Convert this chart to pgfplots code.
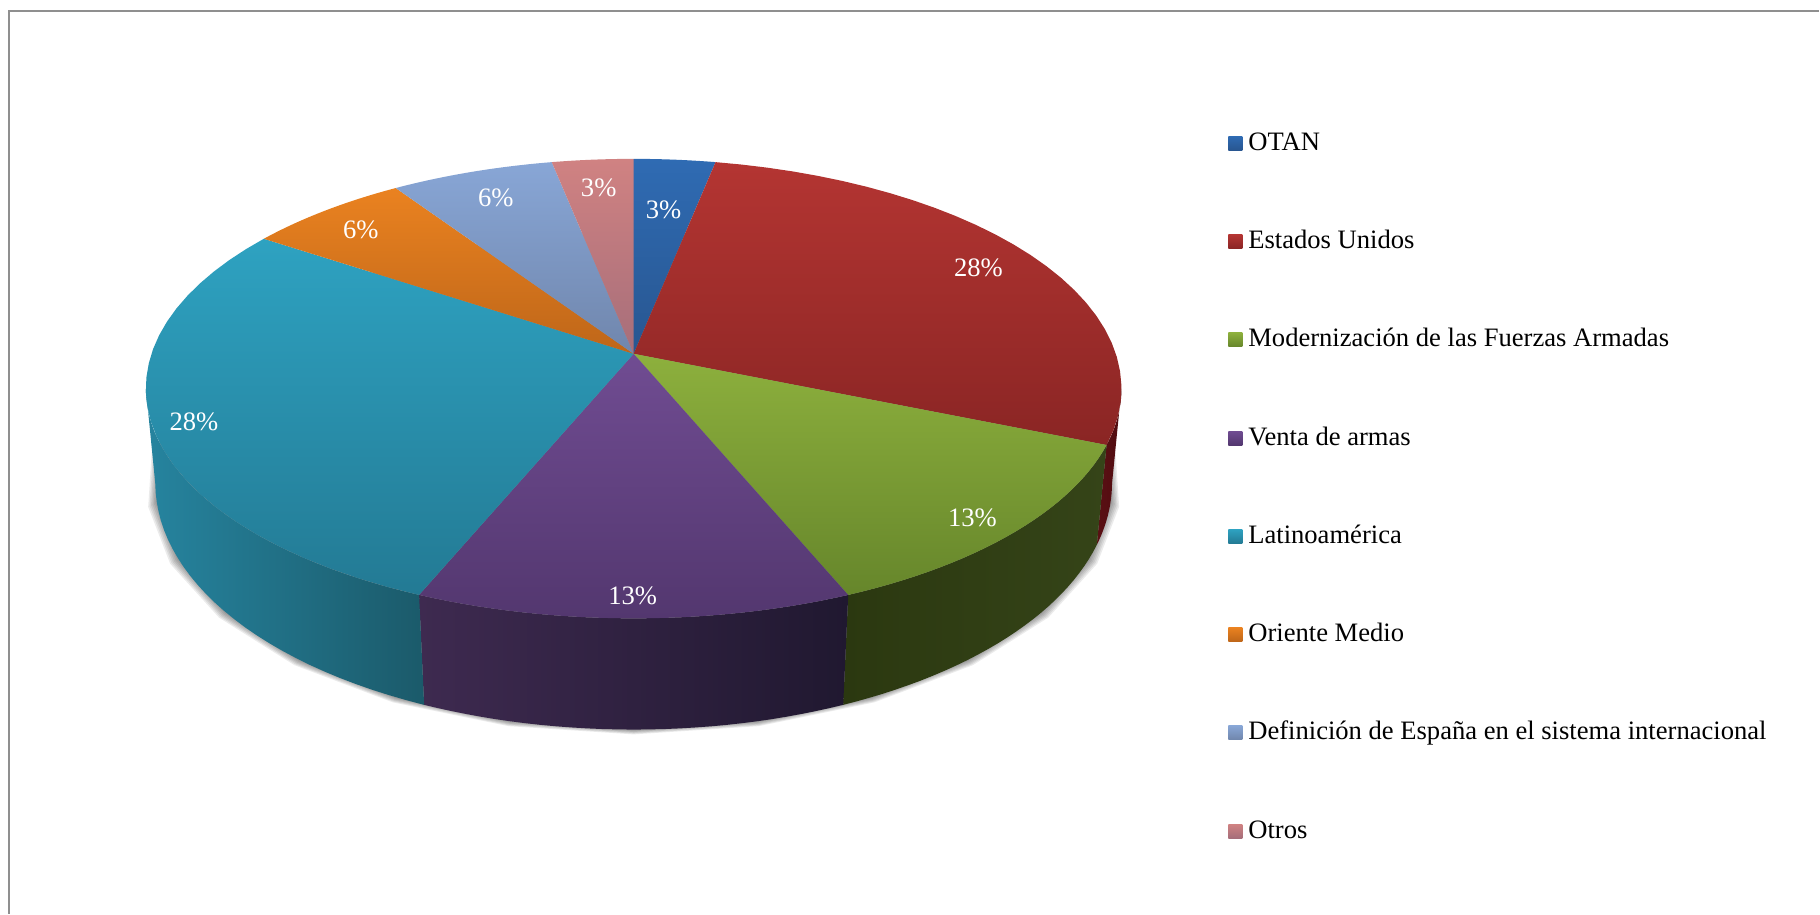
\documentclass[border=0pt]{standalone}
\usepackage{fontspec}
\setmainfont{Liberation Serif}
\usepackage{pgfplots}
\usepackage{pgfplotstable}
\pgfplotsset{compat=1.18}

% Share of each theme, in per cent; the wedges run clockwise from the top.
\pgfplotstableread{
row share
0   3.125
1   28.125
2   12.5
3   12.5
4   28.125
5   6.25
6   6.25
7   3.125
}\shares

% Cumulative angle at the start of each wedge.
\def\cum{0}
\expandafter\def\csname th0\endcsname{0}
\foreach \r in {0,...,7}{%
  \pgfplotstablegetelem{\r}{share}\of\shares
  \pgfmathsetmacro\nxt{\cum+\pgfplotsretval*3.6}%
  \pgfmathtruncatemacro\rr{\r+1}%
  \expandafter\xdef\csname th\rr\endcsname{\nxt}%
  \xdef\cum{\nxt}%
}

% Perspective projection of the disc: top rim and lower rim.
\pgfmathdeclarefunction{wdisc}{1}{\pgfmathparse{1+0.1515*cos(#1)}}
\pgfmathdeclarefunction{topX}{1}{\pgfmathparse{482.5*sin(#1)/wdisc(#1)}}
\pgfmathdeclarefunction{topY}{1}{\pgfmathparse{-224.6*cos(#1)/wdisc(#1)}}
\pgfmathdeclarefunction{fdrop}{1}{\pgfmathparse{0.0186-0.00518*cos(#1)}}

% Appends rim points to \pts. #1 from, #2 to, #3 rim (0 top, 1 lower),
% #4 outward growth, #5 extra downward shift.
\newcommand\rimpts[5]{%
  \foreach \n in {0,...,28}{%
    \pgfmathsetmacro\t{#1+(#2-#1)*\n/28}%
    \pgfmathsetmacro\fd{#3*fdrop(\t)}%
    \pgfmathsetmacro\tx{topX(\t)}%
    \pgfmathsetmacro\ty{topY(\t)}%
    \pgfmathsetmacro\px{634+\tx*(1-\fd)*(1+#4)}%
    \pgfmathsetmacro\py{354+\ty+\fd*(4946-\ty)+#5}%
    \xdef\pts{\pts (\px,\py)}%
  }%
}
\newcommand\poly[1]{%
  \edef\temp{\noexpand\addplot[forget plot,draw=none,#1] coordinates {\pts};}%
  \temp
}
% Top face of wedge #1.
\newcommand\topface[3]{%
  \xdef\pts{(634,354)}%
  \rimpts{\csname th#1\endcsname}{\csname th\the\numexpr#1+1\endcsname}{0}{0}{0}%
  \poly{top color=#2,bottom color=#3}%
}
% Visible rim band between angles #1 and #2.
\newcommand\rimband[5]{%
  \xdef\pts{}%
  \rimpts{#1}{#2}{0}{0}{0}%
  \rimpts{#2}{#1}{1}{0}{0}%
  \poly{left color=#3,middle color=#5,right color=#4}%
}
\newcommand\shadowlayer[2]{%
  \xdef\pts{}%
  \rimpts{0}{360}{1}{#1}{#2}%
  \poly{fill=black,fill opacity=0.08}%
}
\newcommand\swatch[2]{%
  \addlegendimage{legend image code/.code={%
    \path[draw=none,top color=#1,bottom color=#2] (0pt,-2.95pt) rectangle (7pt,4.05pt);}}%
}

\definecolor{aT}{HTML}{2F6BB3}\definecolor{aB}{HTML}{285690}
\definecolor{bT}{HTML}{B43532}\definecolor{bB}{HTML}{8A2524}
\definecolor{cT}{HTML}{8DB03D}\definecolor{cB}{HTML}{66862B}
\definecolor{dT}{HTML}{704C92}\definecolor{dB}{HTML}{53376F}
\definecolor{eT}{HTML}{2EA2C1}\definecolor{eB}{HTML}{237A94}
\definecolor{fT}{HTML}{EA8220}\definecolor{fB}{HTML}{BE6619}
\definecolor{gT}{HTML}{88A6D6}\definecolor{gB}{HTML}{7086AC}
\definecolor{hT}{HTML}{D08282}\definecolor{hB}{HTML}{A66E7A}
\definecolor{bL}{HTML}{5A1014}\definecolor{bM}{HTML}{560E12}\definecolor{bR}{HTML}{510C10}
\definecolor{cL}{HTML}{2B3810}\definecolor{cM}{HTML}{303E14}\definecolor{cR}{HTML}{354418}
\definecolor{dL}{HTML}{3E2A50}\definecolor{dM}{HTML}{2E2140}\definecolor{dR}{HTML}{201830}
\definecolor{eL}{HTML}{26849F}\definecolor{eM}{HTML}{1C6274}\definecolor{eR}{HTML}{1B5A6A}

\begin{document}
\begin{tikzpicture}
\begin{axis}[
  scale only axis,width=910pt,height=457pt,
  xmin=0,xmax=1820,ymin=0,ymax=914,y dir=reverse,
  hide axis,clip=false,
  legend cell align=left,
  legend style={at={(axis cs:1229,132.5)},anchor=north west,draw=none,fill=none,
    inner sep=0pt,outer sep=0pt,row sep=37.15pt,
    nodes={inner sep=0pt,outer sep=0pt,text height=9pt,text depth=3pt,font=\fontsize{13.3}{15}\selectfont},
    /tikz/column 1/.style={column sep=3pt}},
]
% Page extent of the chart area
\path (axis cs:0,0) rectangle (axis cs:1820,914);
% Ground shadow
\shadowlayer{0.003}{0.8}
\shadowlayer{0.006}{1.6}
\shadowlayer{0.009}{2.4}
\shadowlayer{0.012}{3.2}
\shadowlayer{0.015}{4.0}
\shadowlayer{0.018}{4.8}
% Rim bands of the wedges that face the viewer
\rimband{98.7}{112.5}{bL}{bR}{bM}
\rimband{112.5}{157.5}{cL}{cR}{cM}
\rimband{157.5}{202.5}{dL}{dR}{dM}
\rimband{202.5}{261.3}{eL}{eR}{eM}
% Top faces
\topface{0}{aT}{aB}
\topface{1}{bT}{bB}
\topface{2}{cT}{cB}
\topface{3}{dT}{dB}
\topface{4}{eT}{eB}
\topface{5}{fT}{fB}
\topface{6}{gT}{gB}
\topface{7}{hT}{hB}
% Legend
\swatch{aT}{aB}\addlegendentry{OTAN}
\swatch{bT}{bB}\addlegendentry{Estados Unidos}
\swatch{cT}{cB}\addlegendentry{Modernización de las Fuerzas Armadas}
\swatch{dT}{dB}\addlegendentry{Venta de armas}
\swatch{eT}{eB}\addlegendentry{Latinoamérica}
\swatch{fT}{fB}\addlegendentry{Oriente Medio}
\swatch{gT}{gB}\addlegendentry{Definición de España en el sistema internacional}
\swatch{hT}{hB}\addlegendentry{Otros}
% Chart frame
\draw[color=black!44,line width=1pt] (axis cs:9,914)--(axis cs:9,11)--(axis cs:1820,11);
% Data labels
\begin{scope}[every node/.style={text=white,font=\fontsize{13.3}{15}\selectfont,inner sep=0pt}]
\node at (axis cs:664,210) {3\%};
\node at (axis cs:979,268) {28\%};
\node at (axis cs:973,518) {13\%};
\node at (axis cs:633,596) {13\%};
\node at (axis cs:194,422) {28\%};
\node at (axis cs:361,230) {6\%};
\node at (axis cs:496,198) {6\%};
\node at (axis cs:599,188) {3\%};
\end{scope}
\end{axis}
\end{tikzpicture}
\end{document}
